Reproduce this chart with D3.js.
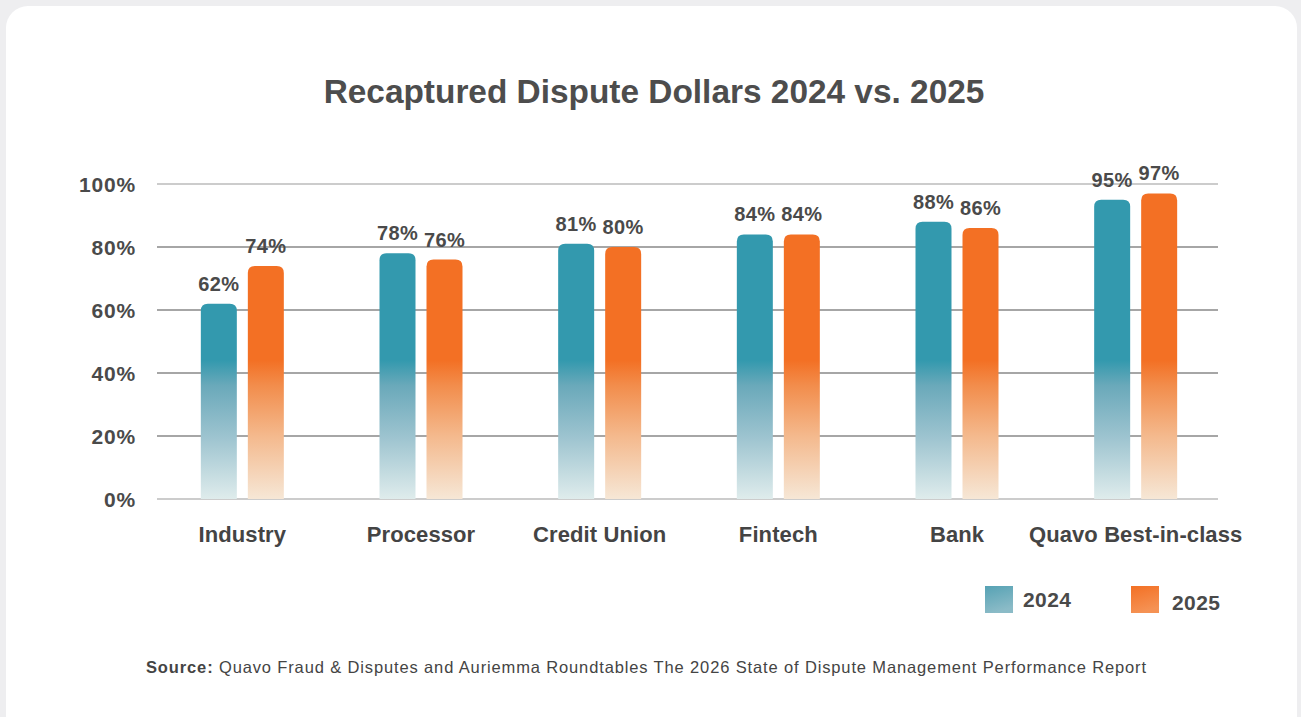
<!DOCTYPE html>
<html>
<head>
<meta charset="utf-8">
<script src="https://cdn.jsdelivr.net/npm/d3@7/dist/d3.min.js"></script>
<style>
  html, body { margin: 0; padding: 0; background: #eeeef0; }
  svg { display: block; }
</style>
</head>
<body>
<svg id="chart" width="1301" height="717"></svg>
<script>
// Recaptured dispute dollars by institution type, 2024 vs. 2025
const categories = ["Industry", "Processor", "Credit Union", "Fintech", "Bank", "Quavo Best-in-class"];
const values2024 = [62, 78, 81, 84, 88, 95];
const values2025 = [74, 76, 80, 84, 86, 97];
const seriesNames = ["2024", "2025"];
const yTicks = [0, 20, 40, 60, 80, 100];

const W = 1301, H = 717;
const svg = d3.select("#chart");
const FONT = "'Liberation Sans', Arial, sans-serif";
const TEXT = "#4a4a4a";

// card
svg.append("rect").attr("x", 6).attr("y", 6).attr("width", W - 10).attr("height", H + 20)
  .attr("rx", 22).attr("fill", "#ffffff");

// gradients
const defs = svg.append("defs");
const y = d3.scaleLinear().domain([0, 100]).range([499, 184]);
const gradStops = {
  "2024": [["#dfecec", 0], ["#9cc3cf", 0.2], ["#6aa9ba", 0.36], ["#3399ae", 0.44], ["#3399ae", 1]],
  "2025": [["#f6e7d6", 0], ["#f4b98d", 0.2], ["#f28d4c", 0.36], ["#f37024", 0.44], ["#f37024", 1]]
};
seriesNames.forEach(s => {
  const g = defs.append("linearGradient").attr("id", "bar" + s)
    .attr("gradientUnits", "userSpaceOnUse")
    .attr("x1", 0).attr("x2", 0).attr("y1", y(0)).attr("y2", y(100));
  gradStops[s].forEach(([c, o]) => g.append("stop").attr("offset", o).attr("stop-color", c));
});
const legGrad = {
  "2024": ["#56a2b4", "#8bbbc7"],
  "2025": ["#f37024", "#f59254"]
};
seriesNames.forEach(s => {
  const g = defs.append("linearGradient").attr("id", "leg" + s)
    .attr("x1", 0).attr("x2", 0.3).attr("y1", 0).attr("y2", 1);
  g.append("stop").attr("offset", 0).attr("stop-color", legGrad[s][0]);
  g.append("stop").attr("offset", 1).attr("stop-color", legGrad[s][1]);
});

// title
svg.append("text").attr("x", 654).attr("y", 103).attr("text-anchor", "middle")
  .attr("font-family", FONT).attr("font-weight", "bold").attr("font-size", 33.4)
  .attr("fill", "#4d4d4d")
  .text("Recaptured Dispute Dollars 2024 vs. 2025");

// gridlines + y labels
const x0 = 157, x1 = 1218;
const grid = svg.append("g");
yTicks.forEach(t => {
  grid.append("line").attr("x1", x0).attr("x2", x1).attr("y1", y(t)).attr("y2", y(t))
    .attr("stroke", (t === 0 || t === 100) ? "#9a9a9a" : "#4f4f4f").attr("stroke-width", 1.2);
  grid.append("text").attr("x", 136).attr("y", y(t) + 7.5).attr("text-anchor", "end")
    .attr("font-family", FONT).attr("font-weight", "bold").attr("font-size", 21)
    .attr("letter-spacing", 0.8)
    .attr("fill", TEXT).text(t + "%");
});

// bars
const xBand = d3.scaleBand().domain(categories).range([153, 1225]).padding(0);
const bw = 36, r = 7;
function topRounded(x, y0, w, h, rr) {
  return `M${x},${y0 + h}V${y0 + rr}Q${x},${y0} ${x + rr},${y0}H${x + w - rr}Q${x + w},${y0} ${x + w},${y0 + rr}V${y0 + h}Z`;
}
const rows = categories.map((c, i) => ({ c, vals: [values2024[i], values2025[i]] }));
rows.forEach(row => {
  const cx = xBand(row.c) + xBand.bandwidth() / 2;
  seriesNames.forEach((s, j) => {
    const v = row.vals[j];
    const bx = cx + (j === 0 ? -41.5 : 5.5);
    svg.append("path").attr("d", topRounded(bx, y(v), bw, y(0) - y(v), r))
      .attr("fill", `url(#bar${s})`);
    svg.append("text").attr("x", bx + bw / 2).attr("y", y(v) - 13).attr("text-anchor", "middle")
      .attr("font-family", FONT).attr("font-weight", "bold").attr("font-size", 20)
      .attr("letter-spacing", 0.4)
      .attr("fill", TEXT).text(v + "%");
  });
  svg.append("text").attr("x", cx).attr("y", 542).attr("text-anchor", "middle")
    .attr("font-family", FONT).attr("font-weight", "bold").attr("font-size", 22)
    .attr("letter-spacing", 0.1)
    .attr("fill", "#444").text(row.c);
});

// legend
const legend = [{ s: "2024", x: 985, ty: 607 }, { s: "2025", x: 1131, ty: 610 }];
legend.forEach((l, i) => {
  svg.append("rect").attr("x", l.x).attr("y", 586).attr("width", 28).attr("height", 27)
    .attr("fill", `url(#leg${l.s})`);
  svg.append("text").attr("x", l.x + (i === 0 ? 38 : 41)).attr("y", l.ty)
    .attr("font-family", FONT).attr("font-weight", "bold").attr("font-size", 21)
    .attr("letter-spacing", 0.4)
    .attr("fill", TEXT).text(l.s);
});

// source note
const src = svg.append("text").attr("x", 146).attr("y", 673)
  .attr("font-family", FONT).attr("font-size", 16.5).attr("fill", "#444")
  .attr("textLength", 1000).attr("lengthAdjust", "spacing");
src.append("tspan").attr("font-weight", "bold").text("Source:");
src.append("tspan").text(" Quavo Fraud & Disputes and Auriemma Roundtables The 2026 State of Dispute Management Performance Report");
</script>
</body>
</html>
